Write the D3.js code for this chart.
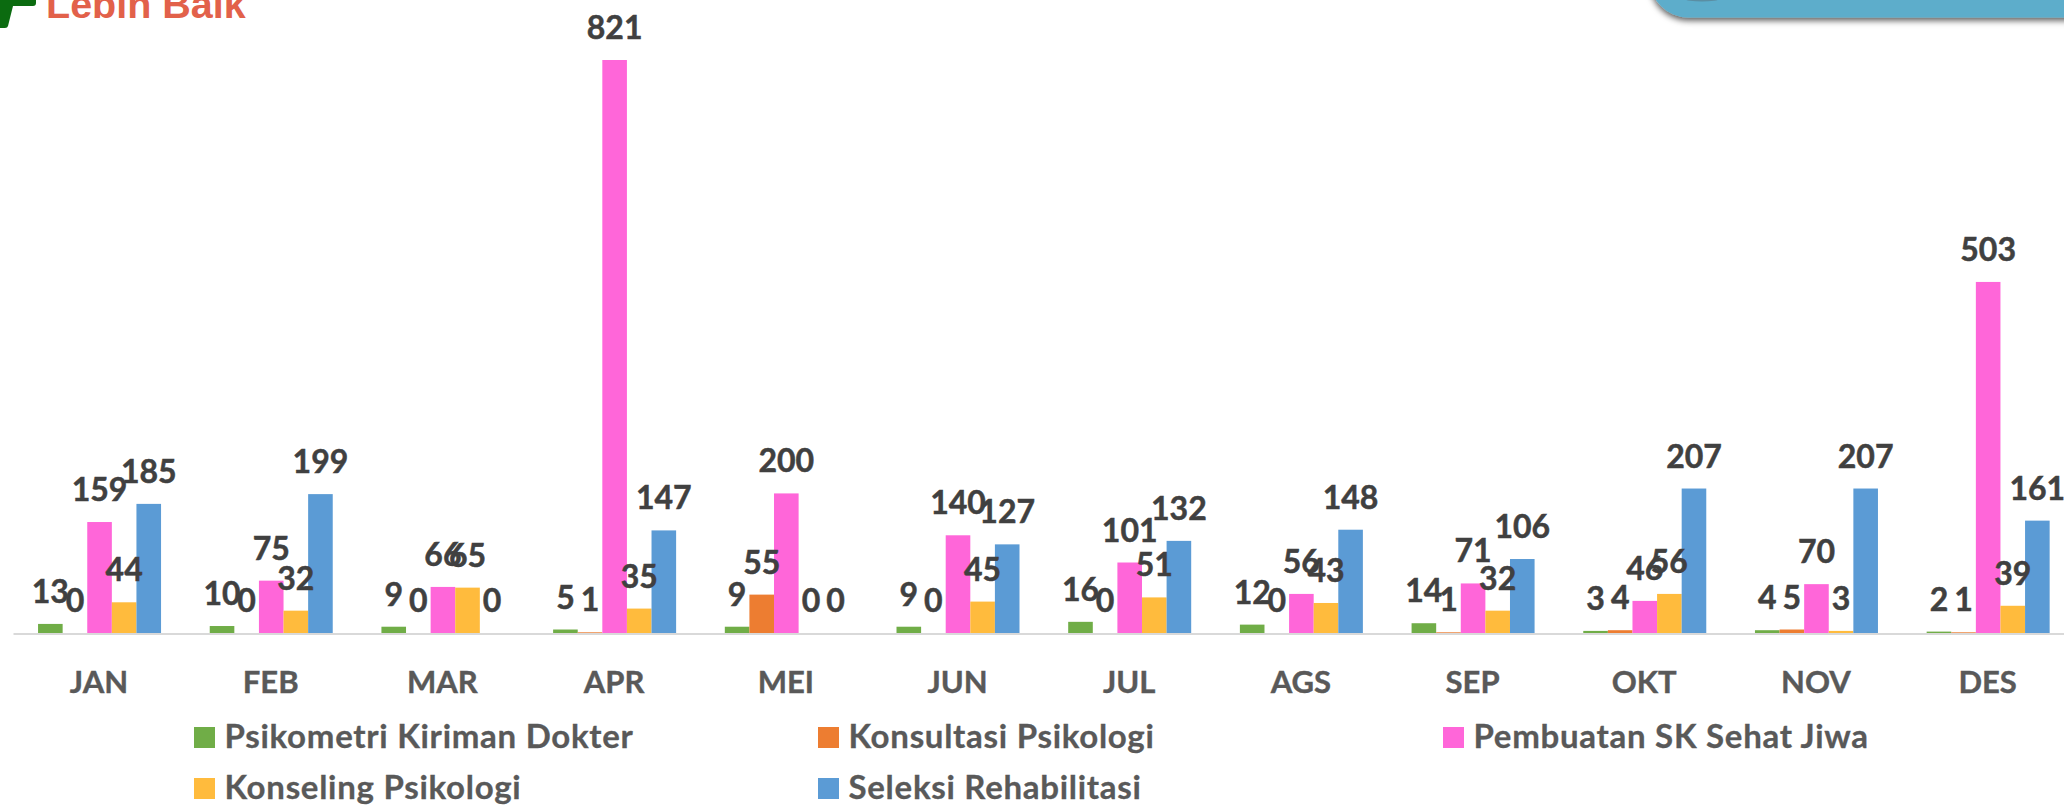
<!DOCTYPE html>
<html><head><meta charset="utf-8">
<script src="https://cdn.jsdelivr.net/npm/d3@7"></script>
<style>html,body{margin:0;padding:0;background:#fff;overflow:hidden}svg{display:block}text{font-family:Lato,"Open Sans",sans-serif;font-weight:700}</style>
</head><body><svg id="c" width="2064" height="805"></svg>
<script>
const months=["JAN","FEB","MAR","APR","MEI","JUN","JUL","AGS","SEP","OKT","NOV","DES"];
const psikometri=[13,10,9,5,9,9,16,12,14,3,4,2];
const konsultasi=[0,0,0,1,55,0,0,0,1,4,5,1];
const pembuatan=[159,75,66,821,200,140,101,56,71,46,70,503];
const konseling=[44,32,65,35,0,45,51,43,32,56,3,39];
const seleksi=[185,199,0,147,0,127,132,148,106,207,207,161];
const names=["Psikometri Kiriman Dokter","Konsultasi Psikologi","Pembuatan SK Sehat Jiwa","Konseling Psikologi","Seleksi Rehabilitasi"];
const colors=["#70ad47","#ed7d31","#ff66d9","#ffbb3d","#5b9bd5"];
const allSeries=[psikometri,konsultasi,pembuatan,konseling,seleksi];

const svg=d3.select("#c");
const base=633;
const x=d3.scaleBand().domain(months).range([13.7,2074]).paddingInner(0).paddingOuter(0);
const bw=24.6;
const x1=d3.scaleBand().domain(d3.range(5)).range([x.bandwidth()/2-2.5*bw,x.bandwidth()/2+2.5*bw]);
const y=d3.scaleLinear().domain([0,821]).range([base,base-573]);

// decoration: panel, logo
const defs=svg.append("defs");
const f=defs.append("filter").attr("id","sh").attr("x","-10%").attr("y","-50%").attr("width","120%").attr("height","220%");
f.append("feDropShadow").attr("dx",0).attr("dy",3).attr("stdDeviation",3).attr("flood-color","#000").attr("flood-opacity",.65);
svg.append("rect").attr("x",1650).attr("y",-60).attr("width",500).attr("height",77.5).attr("rx",38).attr("fill","#5dadcb").attr("filter","url(#sh)");
svg.append("ellipse").attr("cx",1702).attr("cy",-1).attr("rx",17).attr("ry",2.5).attr("fill","#5a8ea3");
svg.append("path").attr("d","M-5 -5H36V3Q36 6 33 6H13L8 26Q7.5 28 5 28H-5Z").attr("fill","#0b6b10");
svg.append("text").attr("x",46).attr("y",18.3).attr("font-size",39.5).attr("fill","#e2614a").style("font-family","Liberation Sans").text("Lebih Baik");

// axis
svg.append("line").attr("x1",13.5).attr("x2",2064).attr("y1",base+1).attr("y2",base+1).attr("stroke","#d9d9d9").attr("stroke-width",2);

// bars
allSeries.forEach((vals,si)=>{
  const g=svg.append("g");
  g.selectAll("rect").data(vals).join("rect")
    .attr("x",(d,i)=>x(months[i])+x1(si)).attr("width",x1.bandwidth())
    .attr("y",d=>y(d)).attr("height",d=>base-y(d)).attr("fill",colors[si]);
});
// labels
allSeries.forEach((vals,si)=>{
  svg.append("g").selectAll("text").data(vals).join("text")
    .attr("x",(d,i)=>x(months[i])+x1(si)+x1.bandwidth()/2)
    .attr("y",d=>y(d)-21).attr("text-anchor","middle")
    .attr("font-size",32).attr("fill","#404040").attr("stroke","#404040").attr("stroke-width",.5).text(d=>d);
});
// categories
svg.append("g").selectAll("text").data(months).join("text")
  .attr("x",d=>x(d)+x.bandwidth()/2-0.5).attr("y",692.5).attr("text-anchor","middle")
  .attr("font-size",31).attr("fill","#595959").attr("stroke","#595959").attr("stroke-width",.4).text(d=>d);
// legend
const lx=[194,818,1443,194,818], ly=[727,727,727,778,778];
const lg=svg.append("g").selectAll("g").data(names).join("g").attr("transform",(d,i)=>`translate(${lx[i]},${ly[i]})`);
lg.append("rect").attr("width",21).attr("height",21).attr("fill",(d,i)=>colors[i]);
lg.append("text").attr("x",30.5).attr("y",21).attr("font-size",33).attr("letter-spacing",.72).attr("fill","#595959").attr("stroke","#595959").attr("stroke-width",.3).text(d=>d);
</script></body></html>
